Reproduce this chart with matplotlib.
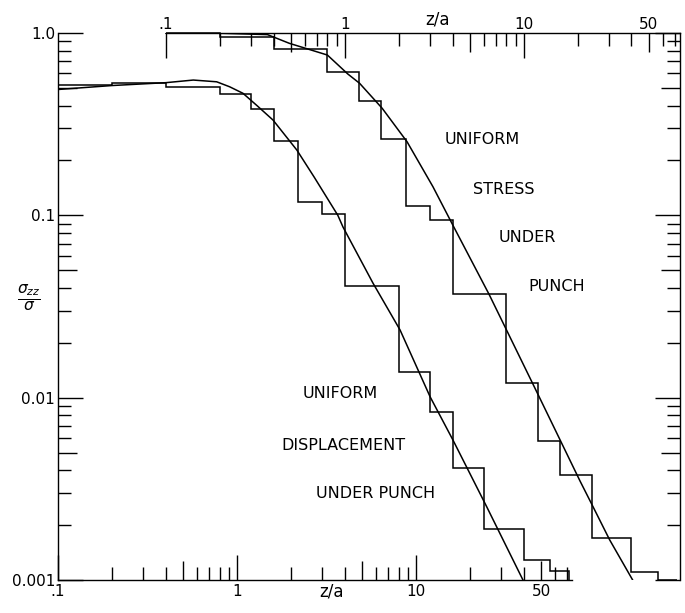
import numpy as np
import matplotlib.pyplot as plt
from matplotlib.ticker import FixedLocator, NullLocator

# uniform displacement under punch (bottom z/a scale)
disp_edges = [0.1, 0.2, 0.4, 0.8, 1.2, 1.6, 2.2, 3.0, 4.0, 8.0, 12, 16, 24, 40, 56, 72]
disp_levels = [0.519, 0.534, 0.504, 0.463, 0.381, 0.256, 0.119, 0.102, 0.041,
               0.0139, 0.0083, 0.0041, 0.0019, 0.00129, 0.00112]
disp_x = [0.1, 0.2, 0.4, 0.57, 0.77, 0.91, 1.08, 1.3, 1.59, 2.16, 2.7, 3.66, 3.91,
          5.75, 8.15, 12.0, 16.1, 24.9, 39.6]
disp_y = [0.49, 0.515, 0.534, 0.552, 0.54, 0.507, 0.467, 0.398, 0.333, 0.228, 0.162,
          0.100, 0.0863, 0.0425, 0.0235, 0.0101, 0.00585, 0.00251, 0.001]

# uniform stress under punch (top z/a scale)
stress_edges = [0.1, 0.2, 0.4, 0.8, 1.2, 1.6, 2.2, 3.0, 4.0, 8.0, 12, 16, 24, 40, 56, 72]
stress_levels = [1.0, 0.947, 0.814, 0.613, 0.425, 0.262, 0.113, 0.0948, 0.0369,
                 0.0121, 0.0058, 0.00376, 0.00169, 0.00111, 0.001]
stress_x = [0.1, 0.2, 0.37, 0.49, 0.80, 1.04, 1.21, 1.62, 2.23, 3.11, 4.06, 6.4,
            8.1, 12.2, 20.6, 24.4, 30.2, 40.6]
stress_y = [1.0, 0.997, 0.98, 0.878, 0.757, 0.596, 0.530, 0.386, 0.253, 0.1435,
            0.0866, 0.0369, 0.0230, 0.0101, 0.0035, 0.00252, 0.00166, 0.001]

x_major = [0.1, 1, 10]
x_major_labels = ['.1', '1', '10']
x_minor = [0.2, 0.3, 0.4, 0.6, 0.7, 0.8, 0.9, 2, 3, 4, 6, 7, 8, 9, 20, 30, 40, 60, 70]
x_fives = [0.5, 5, 50]
x_fives_labels = ['', '', '50']
y_major = [0.001, 0.01, 0.1, 1.0]
y_major_labels = ['0.001', '0.01', '0.1', '1.0']
y_minor = [k * 10.0**e for e in (-3, -2, -1) for k in (2, 3, 4, 6, 7, 8, 9)]
y_fives = [0.005, 0.05, 0.5]

W, H = 685, 613
fig = plt.figure(figsize=(W / 100, H / 100), dpi=100)
ax = fig.add_axes([58 / W, 1 - 580 / H, 622 / W, 547 / H])
ax.set_xscale('log')
ax.set_yscale('log')
ax.set_xlim(0.1, 298.6)
ax.set_ylim(0.001, 1.0)

lw = 1.1
ax.stairs(disp_levels, disp_edges, baseline=0.001, color='black', lw=lw)
ax.plot(disp_x, disp_y, color='black', lw=lw)

ax2 = ax.twiny()
ax2.set_xscale('log')
ax2.set_xlim(0.1 / 4, 298.6 / 4)
ax2.stairs(stress_levels, stress_edges, baseline=None, color='black', lw=lw, clip_on=False)
ax2.plot(stress_x, stress_y, color='black', lw=lw)

# spines
ax.spines['top'].set_visible(False)
ax.spines['bottom'].set_bounds(0.1, 74)
for s in ['left', 'right', 'bottom']:
    ax2.spines[s].set_visible(False)
ax2.spines['top'].set_bounds(0.1, 74.6)
for a in (ax, ax2):
    for s in a.spines.values():
        s.set_linewidth(1.0)

# bottom x ticks
ax.xaxis.set_major_locator(FixedLocator(x_major))
ax.set_xticklabels(x_major_labels)
ax.xaxis.set_minor_locator(FixedLocator(x_minor))
ax.tick_params(axis='x', which='major', direction='in', length=18, width=1, pad=3, labelsize=11)
ax.tick_params(axis='x', which='minor', direction='in', length=9.5, width=1)
sx = ax.secondary_xaxis('bottom')
sx.set_xticks(x_fives, x_fives_labels)
sx.xaxis.set_minor_locator(NullLocator())
sx.tick_params(direction='in', length=14, width=1, pad=3, labelsize=11)
sx.spines['bottom'].set_visible(False)

# top x ticks
ax2.xaxis.set_major_locator(FixedLocator(x_major))
ax2.set_xticklabels(x_major_labels)
ax2.xaxis.set_minor_locator(FixedLocator(x_minor))
ax2.tick_params(axis='x', which='major', direction='in', length=18, width=1, pad=1, labelsize=11)
ax2.tick_params(axis='x', which='minor', direction='in', length=9.5, width=1)
tx = ax2.secondary_xaxis('top')
tx.set_xticks(x_fives, x_fives_labels)
tx.xaxis.set_minor_locator(NullLocator())
tx.tick_params(direction='in', length=14, width=1, pad=1, labelsize=11)
tx.spines['top'].set_visible(False)

# y ticks, both sides
ax.yaxis.set_major_locator(FixedLocator(y_major))
ax.set_yticklabels(y_major_labels)
ax.yaxis.set_minor_locator(FixedLocator(y_minor))
ax.tick_params(axis='y', which='major', direction='in', length=18, width=1, pad=2,
               labelsize=11, right=True)
ax.tick_params(axis='y', which='minor', direction='in', length=9.5, width=1, right=True)
for side in ('left', 'right'):
    sy = ax.secondary_yaxis(side)
    sy.set_yticks(y_fives, ['', '', ''])
    sy.yaxis.set_minor_locator(NullLocator())
    sy.tick_params(direction='in', length=14, width=1)
    sy.spines[side].set_visible(False)

# labels
def ftext(x, y, s, **kw):
    fig.text(x / W, 1 - y / H, s, va='center', **kw)

ftext(331, 591, 'z/a', ha='center', fontsize=12)
ftext(437, 19, 'z/a', ha='center', fontsize=12)
ftext(29, 298, r'$\frac{\sigma_{zz}}{\sigma}$', ha='center', fontsize=16)

ftext(445, 139, 'UNIFORM', ha='left', fontsize=11.5)
ftext(473, 189, 'STRESS', ha='left', fontsize=11.5)
ftext(499, 237, 'UNDER', ha='left', fontsize=11.5)
ftext(528, 287, 'PUNCH', ha='left', fontsize=11.5)
ftext(303, 393, 'UNIFORM', ha='left', fontsize=11.5)
ftext(405, 445, 'DISPLACEMENT', ha='right', fontsize=11.5)
ftext(435, 494, 'UNDER PUNCH', ha='right', fontsize=11.5)

fig.savefig('out.png', dpi=100)
